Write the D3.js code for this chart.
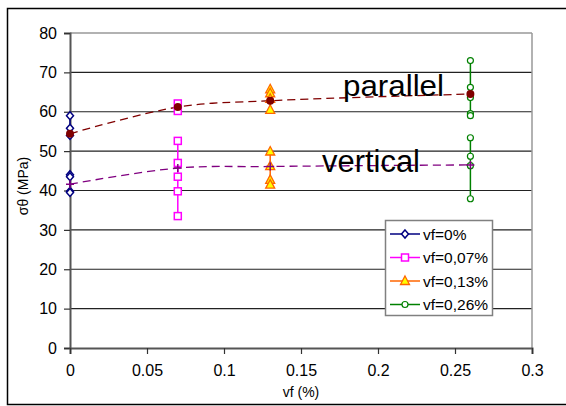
<!DOCTYPE html>
<html>
<head>
<meta charset="utf-8">
<script src="https://cdn.jsdelivr.net/npm/d3@7"></script>
<style>
  body { margin: 0; background: #fff; }
  text { font-family: "Liberation Sans", Arial, sans-serif; fill: #000; }
</style>
</head>
<body>
<div id="chart"></div>
<script>
// fibre contents on x axis
const vfValues = [0, 0.07, 0.13, 0.26];
// mean curves
const parallelMean = [54.4, 61.2, 62.8, 64.5];
const verticalMean = [41.6, 45.7, 46.1, 46.5];
// individual tests per fibre content (parallel group, vertical group)
const vf0Parallel = [59.0, 55.8, 54.0];
const vf0Vertical = [44.0, 43.5, 39.8, 39.5];
const vf007Parallel = [62.1, 60.2];
const vf007Vertical = [52.6, 47.0, 43.5, 39.8, 33.5];
const vf013Parallel = [65.7, 64.7, 63.3, 60.5];
const vf013Vertical = [49.9, 46.2, 42.7, 41.5];
const vf026Parallel = [73.0, 66.2, 63.6, 59.5, 59.0];
const vf026Vertical = [53.4, 48.7, 46.3, 37.9];
const seriesNames = ["vf=0%", "vf=0,07%", "vf=0,13%", "vf=0,26%"];
const yTicks = [0, 10, 20, 30, 40, 50, 60, 70, 80];
const xTicks = [0, 0.05, 0.1, 0.15, 0.2, 0.25, 0.3];

var width = 566, height = 406;
var svg = d3.select("#chart").append("svg")
    .attr("width", width).attr("height", height);

// outer chart border
svg.append("rect").attr("x", 7.5).attr("y", 8.5).attr("width", 580).attr("height", 396)
    .attr("fill", "none").attr("stroke", "#000").attr("stroke-width", 1.5);

var x = d3.scaleLinear().domain([0, 0.3]).range([70, 532]);
var y = d3.scaleLinear().domain([0, 80]).range([348, 33]);

// grid lines
svg.append("g").selectAll("line").data(yTicks.filter(d => d > 0)).join("line")
    .attr("x1", x(0)).attr("x2", x(0.3))
    .attr("y1", d => y(d)).attr("y2", d => y(d))
    .attr("stroke", d => d == 80 ? "#999" : "#222").attr("stroke-width", d => d == 80 ? 1.5 : 1.2);
// right border of plot area
svg.append("line").attr("x1", x(0.3)).attr("x2", x(0.3)).attr("y1", y(80)).attr("y2", y(0))
    .attr("stroke", "#999").attr("stroke-width", 1.5);

// axes
var yAxis = svg.append("g").attr("transform", `translate(${x(0)},0)`)
    .call(d3.axisLeft(y).tickValues(yTicks).tickSize(6).tickPadding(7).tickFormat(d3.format("d")));
var xAxis = svg.append("g").attr("transform", `translate(0,${y(0)})`)
    .call(d3.axisBottom(x).tickValues(xTicks).tickSize(6).tickPadding(11).tickFormat(d => d == 0 ? "0" : String(d)));
[yAxis, xAxis].forEach(a => {
    a.select(".domain").attr("stroke", "#555").attr("stroke-width", 2);
    a.selectAll(".tick line").attr("stroke", "#333").attr("stroke-width", 1.2);
    a.selectAll("text").attr("font-size", 16).attr("font-family", "Liberation Sans, Arial, sans-serif");
});

// axis titles
svg.append("text").attr("x", 301).attr("y", 397).attr("text-anchor", "middle")
    .attr("font-size", 14).text("vf (%)");
svg.append("text").attr("transform", "translate(28,186) rotate(-90)").attr("text-anchor", "middle")
    .attr("font-size", 14).text("σθ (MPa)");

// smoothed mean curves
var curve = d3.line().x(d => x(d[0])).y(d => y(d[1])).curve(d3.curveCatmullRom.alpha(0.5));
svg.append("path").datum(vfValues.map((v, i) => [v, parallelMean[i]]))
    .attr("d", curve).attr("fill", "none").attr("stroke", "#800000")
    .attr("stroke-width", 1.3).attr("stroke-dasharray", "8,5");
svg.append("path").datum(vfValues.map((v, i) => [v, verticalMean[i]]))
    .attr("d", curve).attr("fill", "none").attr("stroke", "#800080")
    .attr("stroke-width", 1.3).attr("stroke-dasharray", "8,5");

// test series
var series = [
    {name: seriesNames[0], vf: vfValues[0], groups: [vf0Parallel, vf0Vertical], color: "#000080", marker: "diamond"},
    {name: seriesNames[1], vf: vfValues[1], groups: [vf007Parallel, vf007Vertical], color: "#FF00FF", marker: "square"},
    {name: seriesNames[2], vf: vfValues[2], groups: [vf013Parallel, vf013Vertical], color: "#FF6600", marker: "triangle"},
    {name: seriesNames[3], vf: vfValues[3], groups: [vf026Parallel, vf026Vertical], color: "#008000", marker: "circle"}
];

function drawMarker(g, type, color, cx, cy) {
    if (type == "diamond") {
        g.append("path").attr("d", `M${cx},${cy - 4}L${cx + 3.5},${cy}L${cx},${cy + 4}L${cx - 3.5},${cy}Z`)
            .attr("fill", "#fff").attr("stroke", color).attr("stroke-width", 1.5);
    } else if (type == "square") {
        g.append("rect").attr("x", cx - 3.5).attr("y", cy - 3.5).attr("width", 7).attr("height", 7)
            .attr("fill", "#fff").attr("stroke", color).attr("stroke-width", 1.5);
    } else if (type == "triangle") {
        g.append("path").attr("d", `M${cx},${cy - 5}L${cx + 4.5},${cy + 3.5}L${cx - 4.5},${cy + 3.5}Z`)
            .attr("fill", "#FFFF00").attr("stroke", color).attr("stroke-width", 1.3);
    } else {
        g.append("circle").attr("cx", cx).attr("cy", cy).attr("r", 3)
            .attr("fill", "#fff").attr("stroke", color).attr("stroke-width", 1.2);
    }
}

var lineFor = d3.line().x(d => x(d[0])).y(d => y(d[1]));
series.forEach(s => {
    var g = svg.append("g");
    s.groups.forEach(vals => {
        var pts = vals.map(v => [s.vf, v]);
        g.append("path").datum(pts).attr("d", lineFor).attr("fill", "none")
            .attr("stroke", s.color).attr("stroke-width", 1.5);
    });
    s.groups.forEach(vals => vals.forEach(v => drawMarker(g, s.marker, s.color, x(s.vf), y(v))));
});

// mean markers
svg.append("g").selectAll("circle").data(vfValues).join("circle")
    .attr("cx", d => x(d)).attr("cy", (d, i) => y(parallelMean[i])).attr("r", 4)
    .attr("fill", "#800000");
svg.append("g").selectAll("path").data(vfValues).join("path")
    .attr("d", (d, i) => {
        var cx = x(d), cy = y(verticalMean[i]);
        return `M${cx - 4},${cy}H${cx + 4}M${cx},${cy - 4}V${cy + 4}`;
    })
    .attr("stroke", "#800080").attr("stroke-width", 1.5);

// group labels
svg.append("text").attr("x", 343).attr("y", 96).attr("font-size", 30)
    .attr("textLength", 101).attr("lengthAdjust", "spacingAndGlyphs").text("parallel");
svg.append("text").attr("x", 322).attr("y", 172).attr("font-size", 31)
    .attr("textLength", 98).attr("lengthAdjust", "spacingAndGlyphs").text("vertical");

// legend
var legend = svg.append("g").attr("transform", "translate(385,220)");
legend.append("rect").attr("x", 0.5).attr("y", 0.5).attr("width", 107).attr("height", 95)
    .attr("fill", "#fff").attr("stroke", "#808080").attr("stroke-width", 1.5);
series.forEach((s, i) => {
    var ly = 14 + i * 23.5;
    legend.append("line").attr("x1", 5).attr("x2", 35).attr("y1", ly).attr("y2", ly)
        .attr("stroke", s.color).attr("stroke-width", 1.5);
    drawMarker(legend, s.marker, s.color, 20, ly);
    legend.append("text").attr("x", 38).attr("y", ly + 5.5).attr("font-size", 15.5).text(s.name);
});
</script>
</body>
</html>
